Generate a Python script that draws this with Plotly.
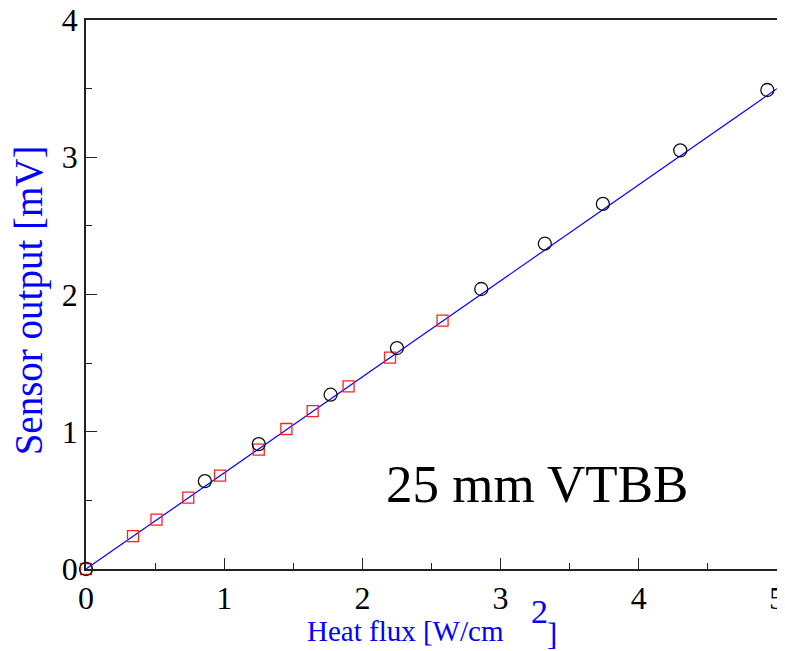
import plotly.graph_objects as go

# Data
circle_x = [0.0, 0.86, 1.25, 1.77, 2.25, 2.86, 3.32, 3.74, 4.30, 4.93]
circle_y = [0.0, 0.64, 0.91, 1.27, 1.61, 2.04, 2.37, 2.66, 3.05, 3.49]

square_x = [0.0, 0.34, 0.51, 0.74, 0.97, 1.25, 1.45, 1.64, 1.90, 2.20, 2.58]
square_y = [0.0, 0.24, 0.36, 0.52, 0.68, 0.87, 1.02, 1.15, 1.33, 1.54, 1.81]

fit_x = [0.0, 5.0]
fit_y = [0.0, 3.5]

x_ticks = [0, 1, 2, 3, 4, 5]
y_ticks = [0, 1, 2, 3, 4]

FONT = "Liberation Serif, Times New Roman, serif"

fig = go.Figure()
fig.add_trace(go.Scatter(x=fit_x, y=fit_y, mode="lines",
                         line=dict(color="#0000ff", width=1.2),
                         showlegend=False, hoverinfo="skip", cliponaxis=False))
fig.add_trace(go.Scatter(x=square_x, y=square_y, mode="markers",
                         marker=dict(symbol="square-open", size=11,
                                     color="#ff2020", line=dict(width=1.3)),
                         showlegend=False, cliponaxis=False))
fig.add_trace(go.Scatter(x=circle_x, y=circle_y, mode="markers",
                         marker=dict(symbol="circle-open", size=13,
                                     color="#111111", line=dict(width=1.3)),
                         showlegend=False, cliponaxis=False))

axis_common = dict(
    showgrid=False, zeroline=False, showline=True, mirror=True,
    linecolor="#222222", linewidth=1.5, automargin=False,
    ticks="inside", ticklen=11, tickwidth=1.2, tickcolor="#222222",
    ticklabeloverflow="allow",
    tickfont=dict(family=FONT, size=32, color="#000000"),
    minor=dict(ticks="inside", ticklen=6, tickwidth=1, tickcolor="#222222", dtick=0.5),
)

fig.update_xaxes(range=[0, 5], tickvals=x_ticks, ticktext=[str(v) for v in x_ticks],
                 **axis_common)
fig.update_yaxes(range=[0, 4], tickvals=y_ticks, ticktext=[str(v) for v in y_ticks],
                 **axis_common)

# page body adds an 8px offset, so the figure is sized to fit the window
fig.update_layout(
    width=777, height=643,
    margin=dict(l=78, r=8, t=12, b=82, autoexpand=False),
    plot_bgcolor="white", paper_bgcolor="white",
    font=dict(family=FONT),
    annotations=[
        dict(text="25 mm VTBB", x=3.26, y=0.62, xref="x", yref="y",
             xanchor="center", yanchor="middle",
             showarrow=False, font=dict(family=FONT, size=53, color="#000000")),
        dict(text="Sensor output [mV]", x=-0.082, y=0.49, xref="paper", yref="paper",
             xanchor="center", yanchor="middle",
             textangle=-90, showarrow=False,
             font=dict(family=FONT, size=39, color="#0000ff")),
        dict(text="Heat flux [W/cm", x=0.317, y=-0.113, xref="paper", yref="paper",
             xanchor="left", yanchor="middle", showarrow=False,
             font=dict(family=FONT, size=29, color="#0000ff")),
        dict(text="2", x=0.657, y=-0.078, xref="paper", yref="paper",
             xanchor="center", yanchor="middle", showarrow=False,
             font=dict(family=FONT, size=34, color="#0000ff")),
        dict(text="]", x=0.674, y=-0.12, xref="paper", yref="paper",
             xanchor="center", yanchor="middle", showarrow=False,
             font=dict(family=FONT, size=31, color="#0000ff")),
    ],
)

fig.write_html("out.html")
